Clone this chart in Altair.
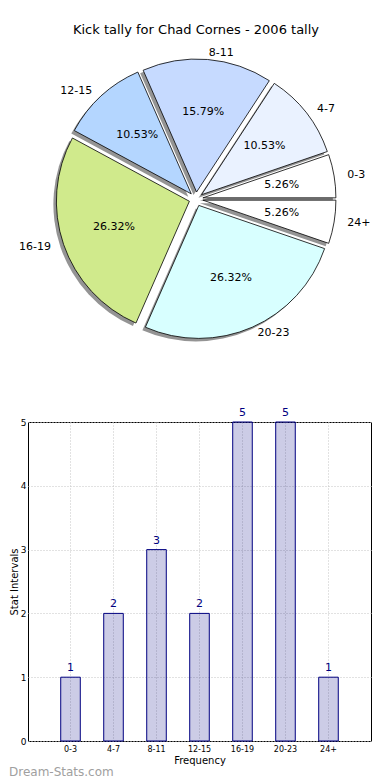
import math
import altair as alt
import pandas as pd

# ---- data ----
cats = ["0-3", "4-7", "8-11", "12-15", "16-19", "20-23", "24+"]
counts = [1, 2, 3, 2, 5, 5, 1]
slice_colors = ["#ffffff", "#eaf2ff", "#c6daff", "#b4d6ff", "#d0ea8c", "#d8ffff", "#ffffff"]
title_text = "Kick tally for Chad Cornes - 2006 tally"
y_ticks = [0, 1, 2, 3, 4, 5]
x_title = "Frequency"
y_title = "Stat Intervals"
watermark = "Dream-Stats.com"

df = pd.DataFrame({"cat": cats, "v": counts, "ord": list(range(len(cats)))[::-1]})

FONT = "DejaVu Sans"
ORIGIN_X = 27
ORIGIN_Y = 8
CX = 195 - ORIGIN_X
CY = 199 - ORIGIN_Y
R = 133
EXP = 7
SH = 3
PW = 370 - ORIGIN_X
PH = 319
PIE_H = 398

base = (
    alt.Chart(df)
    .transform_joinaggregate(total="sum(v)")
    .transform_window(cum="sum(v)", sort=[alt.SortField("ord")], frame=[None, 0])
    .transform_calculate(mid="PI/2 + (datum.cum - datum.v/2)/datum.total*2*PI")
    .transform_calculate(px=f"{CX} + {EXP}*sin(datum.mid)")
    .transform_calculate(py=f"{CY} - {EXP}*cos(datum.mid)")
    .transform_calculate(sx=f"datum.px - {SH}")
    .transform_calculate(sy=f"datum.py + {SH}")
    .transform_calculate(lx=f"datum.px + {R*1.1}*sin(datum.mid)")
    .transform_calculate(ly=f"datum.py - {R*1.05}*cos(datum.mid)")
    .transform_calculate(tx=f"datum.px + {R*0.6}*sin(datum.mid)")
    .transform_calculate(ty=f"datum.py - {R*0.6}*cos(datum.mid)")
    .transform_calculate(pct="format(datum.v/datum.total*100, '.2f') + '%'")
)

theta = alt.Theta("v:Q", stack=True,
                  scale=alt.Scale(range=[math.pi / 2, math.pi / 2 + 2 * math.pi]))
order = alt.Order("ord:Q")

shadow = base.mark_arc(outerRadius=R, fill="#949494").encode(
    theta=theta, order=order,
    x=alt.X("sx:Q", scale=None), y=alt.Y("sy:Q", scale=None),
)
slices = base.mark_arc(outerRadius=R, stroke="black", strokeWidth=0.8).encode(
    theta=theta, order=order,
    x=alt.X("px:Q", scale=None), y=alt.Y("py:Q", scale=None),
    color=alt.Color("cat:N", scale=alt.Scale(domain=cats, range=slice_colors), legend=None),
)
pct = base.mark_text(fontSize=11, font=FONT, color="black").encode(
    x=alt.X("tx:Q", scale=None), y=alt.Y("ty:Q", scale=None), text="pct:N"
)
lab_r = base.transform_filter("sin(datum.mid) > 0").mark_text(
    fontSize=11, font=FONT, align="left", color="black"
).encode(x=alt.X("lx:Q", scale=None), y=alt.Y("ly:Q", scale=None), text="cat:N")
lab_l = base.transform_filter("sin(datum.mid) <= 0").mark_text(
    fontSize=11, font=FONT, align="right", color="black"
).encode(x=alt.X("lx:Q", scale=None), y=alt.Y("ly:Q", scale=None), text="cat:N")

title = alt.Chart(pd.DataFrame({"t": [title_text]})).mark_text(
    fontSize=13, font=FONT, color="black"
).encode(x=alt.value(CX), y=alt.value(30 - ORIGIN_Y), text="t:N")

pie = alt.layer(shadow, slices, pct, lab_r, lab_l, title).properties(
    width=PW, height=PIE_H, view=alt.ViewBackground(stroke=None)
)

# ---- bar chart ----
bbase = alt.Chart(df).encode(
    x=alt.X("cat:N", sort=cats,
            scale=alt.Scale(paddingInner=0.545, paddingOuter=0.761),
            axis=alt.Axis(title=x_title, labelAngle=0, labelFontSize=8, titleFontSize=10,
                          titleFontWeight="normal", labelPadding=4, titlePadding=2,
                          ticks=False, domain=False, grid=True, bandPosition=0.5)),
    y=alt.Y("v:Q", scale=alt.Scale(domain=[0, 5], nice=False),
            axis=alt.Axis(title=y_title, values=y_ticks, format="d", labelFontSize=9,
                          titleFontSize=10, titleFontWeight="normal", labelPadding=2,
                          titlePadding=1, ticks=False, domain=False, grid=True)),
)
bars = bbase.mark_bar(fill="#000080", fillOpacity=0.2, stroke="#000080", strokeWidth=1)
btext = bbase.mark_text(dy=-4, baseline="bottom", fontSize=11, font=FONT, color="#000080").encode(
    text="v:Q"
)
wm = alt.Chart(pd.DataFrame({"t": [watermark]})).mark_text(
    fontSize=12, font=FONT, color="#a0a0a0", align="left"
).encode(x=alt.value(8 - ORIGIN_X), y=alt.value(350), text="t:N")

barchart = alt.layer(bars, btext, wm).properties(width=PW, height=PH)

chart = (
    alt.vconcat(pie, barchart, spacing=0)
    .properties(padding={"left": 0, "top": 0, "right": 0, "bottom": 0})
    .configure(font=FONT)
    .configure_view(stroke="black", strokeWidth=1)
    .configure_axis(gridColor="#c4c4c4", gridDash=[1, 2], gridWidth=1,
                    labelColor="black", titleColor="black", labelFont=FONT, titleFont=FONT)
)

chart.save("out.html", embed_options={"renderer": "svg", "actions": False})
